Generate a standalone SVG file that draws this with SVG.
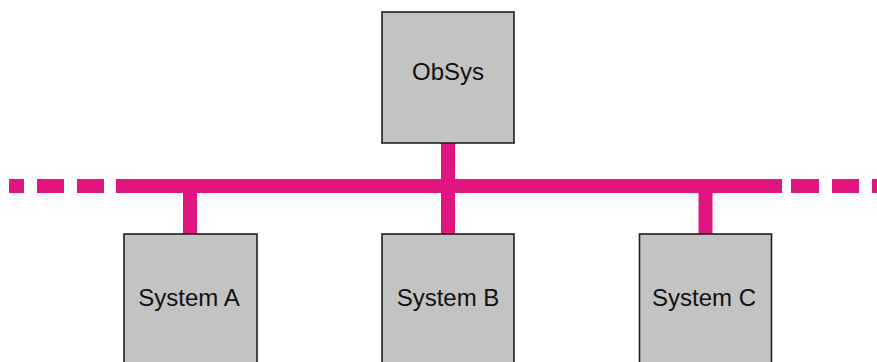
<svg xmlns="http://www.w3.org/2000/svg" width="877" height="362" viewBox="0 0 877 362">
  <style>
    .box { fill: #c3c3c3; stroke: #1e1e1e; stroke-width: 1.6; }
    .label { font-family: "Liberation Sans", Arial, sans-serif; font-size: 24px; fill: #111; text-anchor: middle; }
    .bus { fill: #e0157f; }
  </style>
  <rect width="877" height="362" fill="#ffffff"/>

  <!-- bus and drop lines -->
  <g id="connectors">
    <!-- dashed ends of the shared bus -->
    <rect class="bus" x="9" y="179" width="15" height="14"/>
    <rect class="bus" x="37" y="179" width="27" height="14"/>
    <rect class="bus" x="77" y="179" width="27" height="14"/>
    <rect class="bus" x="791" y="179" width="28" height="14"/>
    <rect class="bus" x="832" y="179" width="27" height="14"/>
    <rect class="bus" x="872" y="179" width="10" height="14"/>
    <!-- solid bus segment -->
    <rect class="bus" x="116" y="179" width="666" height="14"/>
    <!-- drops -->
    <rect class="bus" x="441" y="143" width="14" height="91"/>
    <rect class="bus" x="183" y="193" width="14" height="41"/>
    <rect class="bus" x="698.5" y="193" width="14" height="41"/>
  </g>

  <g id="obsys">
    <rect class="box" x="382" y="12" width="132" height="131"/>
    <text class="label" x="448" y="80">ObSys</text>
  </g>

  <g id="system-a">
    <rect class="box" x="124" y="234" width="133" height="140"/>
    <text class="label" x="189" y="306">System A</text>
  </g>

  <g id="system-b">
    <rect class="box" x="382" y="234" width="132" height="140"/>
    <text class="label" x="448" y="306">System B</text>
  </g>

  <g id="system-c">
    <rect class="box" x="639.5" y="234" width="132" height="140"/>
    <text class="label" x="704" y="306">System C</text>
  </g>
</svg>
